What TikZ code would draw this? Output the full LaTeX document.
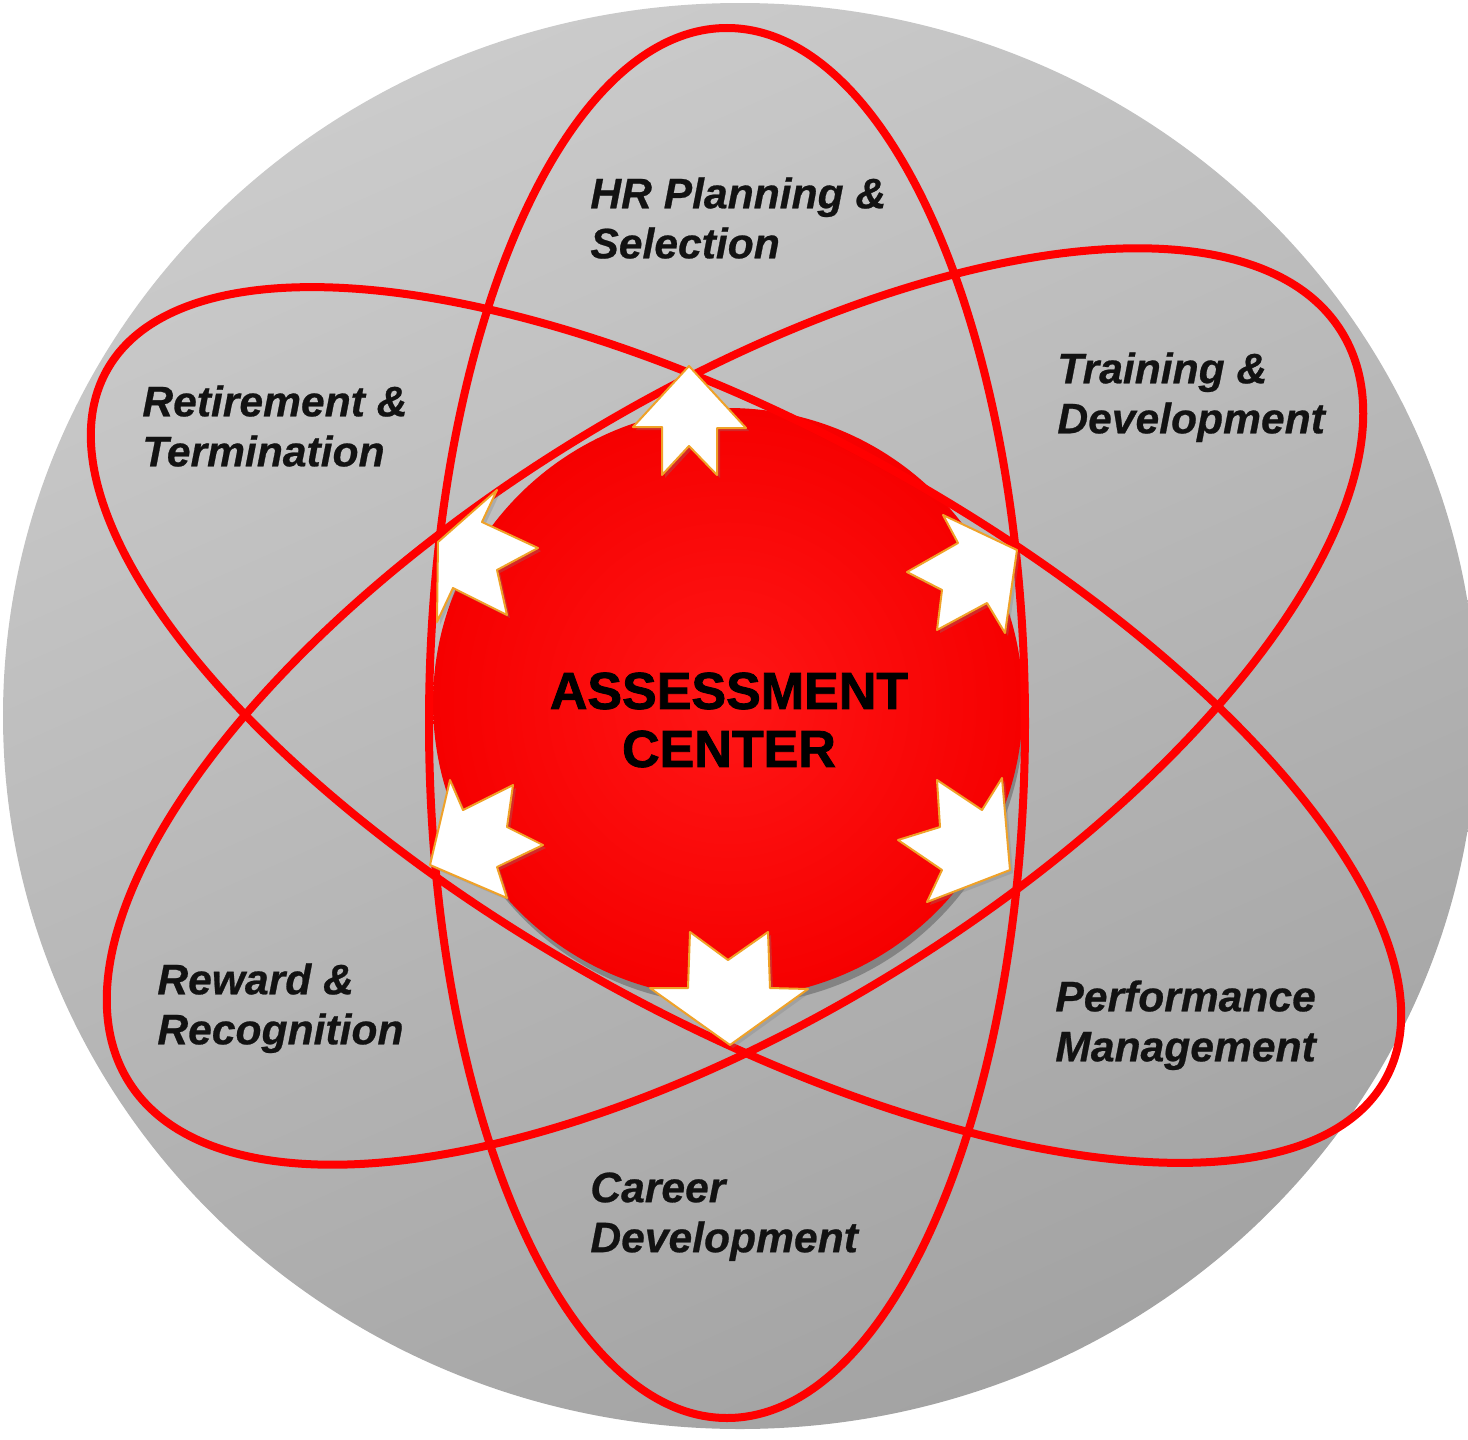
\documentclass[tikz,border=0pt]{standalone}
\usepackage{fontspec}
\setmainfont{Liberation Sans}
\newfontfamily\corefont[FakeBold=1.6]{Liberation Sans Bold}
\newfontfamily\areafont[FakeBold=0.6]{Liberation Sans Bold Italic}
\usetikzlibrary{shadows}
\definecolor{orbitred}{RGB}{255,0,0}
\definecolor{corered}{RGB}{255,22,22}
\definecolor{coreedge}{RGB}{246,0,0}
\definecolor{rimorange}{RGB}{240,162,40}
\definecolor{labelink}{RGB}{18,18,18}
\definecolor{discLight}{RGB}{203,203,203}
\definecolor{discDark}{RGB}{163,163,163}

\begin{document}
\begin{tikzpicture}[x=0.5pt,y=0.5pt,
  orbit/.style={draw=orbitred, line width=4pt},
  pointer/.style={fill=white, draw=rimorange, line width=1pt, line join=round,
    drop shadow={shadow xshift=1.5pt, shadow yshift=-1.5pt, opacity=0.3}},
  area/.style={anchor=north west, inner sep=0pt, align=left, text=labelink,
    font=\fontsize{21.3}{25}\areafont},
  core/.style={align=center, inner sep=0pt, text=black,
    font=\fontsize{26}{29}\corefont}
]
\useasboundingbox (0,0) rectangle (1468,-1440);
\clip (0,0) rectangle (1468,-1440);

% grey backdrop disc
\shade[top color=discLight, bottom color=discDark, shading angle=24]
  (740,-716) ellipse [x radius=737, y radius=713];

% red core with a soft shadow underneath
\fill[black, opacity=0.25] (731,-712) circle [radius=293];
\shade[inner color=corered, outer color=coreedge] (728,-703) circle [radius=295];

% three orbits
\draw[orbit] (727,-723) ellipse [x radius=298, y radius=695];
\draw[orbit, rotate around={-29:(746,-725)}] (746,-725) ellipse [x radius=731, y radius=294];
\draw[orbit, rotate around={31.7:(735,-706.5)}] (735,-706.5) ellipse [x radius=713, y radius=310];

% outward pointers
\path[pointer] (689,-366) -- (746,-428) -- (717,-428) -- (717,-475) -- (689,-446)
  -- (662,-475) -- (662,-427) -- (633,-427) -- cycle;
\path[pointer] (1017,-550) -- (1005,-633) -- (987,-603) -- (937,-630) -- (942,-590)
  -- (907,-572) -- (958,-543) -- (943,-515) -- cycle;
\path[pointer] (438,-542) -- (497,-490) -- (482,-522) -- (538,-548) -- (497,-570)
  -- (507,-615) -- (453,-588) -- (437,-622) -- cycle;
\path[pointer] (1010,-870) -- (1002,-778) -- (982,-810) -- (937,-780) -- (940,-827)
  -- (898,-840) -- (942,-870) -- (927,-902) -- cycle;
\path[pointer] (430,-865) -- (450,-780) -- (463,-810) -- (513,-785) -- (507,-827)
  -- (543,-845) -- (497,-867) -- (507,-898) -- cycle;
\path[pointer] (730,-1045) -- (808,-989) -- (770,-988) -- (768,-932) -- (728,-960)
  -- (690,-932) -- (688,-988) -- (650,-988) -- cycle;

% labels
\node[area] (hr) at (590,-177) {HR Planning \&\\Selection};
\node[area] (td) at (1057,-352) {Training \&\\Development};
\node[area] (rt) at (142,-385) {Retirement \&\\Termination};
\node[area] (rr) at (157,-963) {Reward \&\\Recognition};
\node[area] (pm) at (1055,-980) {Performance\\Management};
\node[area] (cd) at (590,-1172) {Career\\Development};
\node[core] (ac) at (729,-720) {ASSESSMENT\\CENTER};
\end{tikzpicture}
\end{document}
